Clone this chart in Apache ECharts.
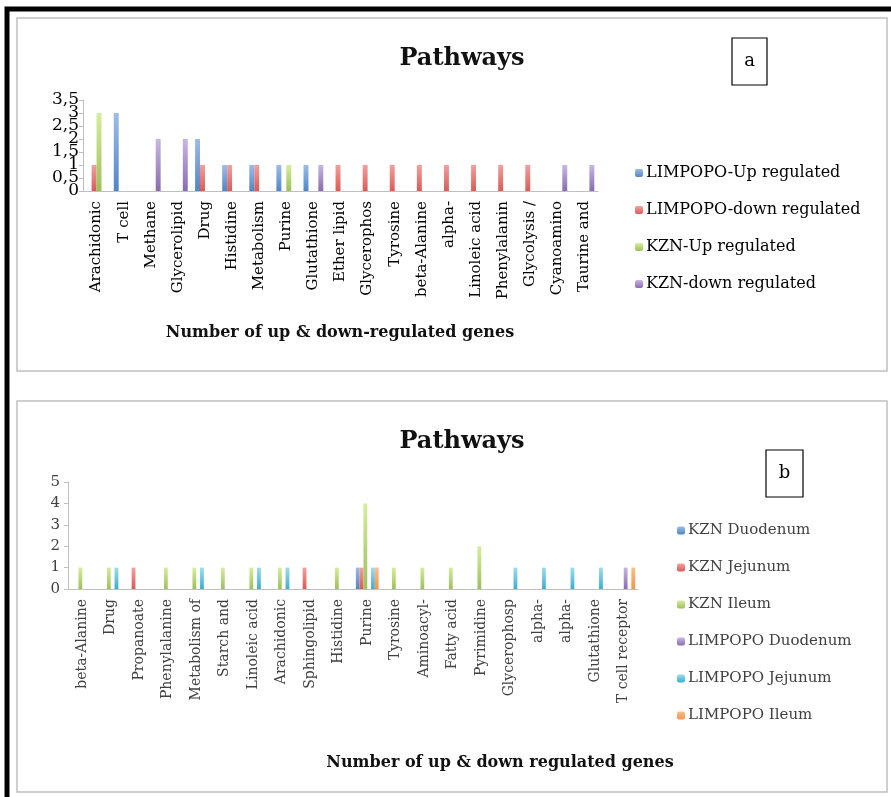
<!DOCTYPE html>
<html lang="en" style="height: 100%">
<head>
  <meta charset="utf-8">
</head>
<body style="height: 100%; margin: 0; background: #fff">
  <div id="container" style="width: 891px; height: 797px"></div>

  <script type="text/javascript" src="https://fastly.jsdelivr.net/npm/echarts@6/dist/echarts.min.js"></script>
  <script type="text/javascript">
    var dom = document.getElementById('container');
    var myChart = echarts.init(dom, null, { renderer: 'canvas' });

// panel a
var catsA = ['Arachidonic', 'T cell', 'Methane', 'Glycerolipid', 'Drug', 'Histidine', 'Metabolism',
  'Purine', 'Glutathione', 'Ether lipid', 'Glycerophos', 'Tyrosine', 'beta-Alanine', 'alpha-',
  'Linoleic acid', 'Phenylalanin', 'Glycolysis /', 'Cyanoamino', 'Taurine and'];
var limpUp   = [0, 3, 0, 0, 2, 1, 1, 1, 1, 0, 0, 0, 0, 0, 0, 0, 0, 0, 0];
var limpDown = [1, 0, 0, 0, 1, 1, 1, 0, 0, 1, 1, 1, 1, 1, 1, 1, 1, 0, 0];
var kznUp    = [3, 0, 0, 0, 0, 0, 0, 1, 0, 0, 0, 0, 0, 0, 0, 0, 0, 0, 0];
var kznDown  = [0, 0, 2, 2, 0, 0, 0, 0, 1, 0, 0, 0, 0, 0, 0, 0, 0, 1, 1];

// panel b
var catsB = ['beta-Alanine', 'Drug', 'Propanoate', 'Phenylalanine', 'Metabolism of', 'Starch and',
  'Linoleic acid', 'Arachidonic', 'Sphingolipid', 'Histidine', 'Purine', 'Tyrosine', 'Aminoacyl-',
  'Fatty acid', 'Pyrimidine', 'Glycerophosp', 'alpha-', 'alpha-', 'Glutathione', 'T cell receptor'];
var kznDuo  = [0, 0, 0, 0, 0, 0, 0, 0, 0, 0, 1, 0, 0, 0, 0, 0, 0, 0, 0, 0];
var kznJej  = [0, 0, 1, 0, 0, 0, 0, 0, 1, 0, 1, 0, 0, 0, 0, 0, 0, 0, 0, 0];
var kznIle  = [1, 1, 0, 1, 1, 1, 1, 1, 0, 1, 4, 1, 1, 1, 2, 0, 0, 0, 0, 0];
var limpDuo = [0, 0, 0, 0, 0, 0, 0, 0, 0, 0, 0, 0, 0, 0, 0, 0, 0, 0, 0, 1];
var limpJej = [0, 1, 0, 0, 1, 0, 1, 1, 0, 0, 1, 0, 0, 0, 0, 1, 1, 1, 1, 0];
var limpIle = [0, 0, 0, 0, 0, 0, 0, 0, 0, 0, 1, 0, 0, 0, 0, 0, 0, 0, 0, 1];

var serif = 'DejaVu Serif';

function grad(light, dark) {
  return new echarts.graphic.LinearGradient(0, 0, 0, 1, [
    { offset: 0, color: light },
    { offset: 1, color: dark }
  ]);
}
var cBlue = grad('#9dbcea', '#4f86c6');
var cRed = grad('#f4a09e', '#dc5a56');
var cGreen = grad('#d6ee9c', '#9dc05a');
var cPurple = grad('#c8b6e4', '#8a6cb0');
var cAqua = grad('#9edcee', '#3aaed0');
var cOrange = grad('#fbbf8c', '#f7944a');

function bar(name, data, color, axis) {
  return {
    name: name, type: 'bar', data: data,
    xAxisIndex: axis, yAxisIndex: axis,
    itemStyle: { color: color },
    barGap: '0%',
    barCategoryGap: axis === 0 ? '27%' : '20%',
    silent: true
  };
}

var axisGray = '#bfbfbf';

// panel a y labels are drawn by two axes (whole and half values) so the
// overlapping labels all stay visible like in the original
function labA(wantHalf) {
  return function (v) {
    var half = Math.round(v * 2) % 2 === 1;
    return half === wantHalf ? String(v).replace('.', ',') : '';
  };
}

option = {
  animation: false,
  title: [
    { text: 'Pathways', left: 457, top: 42, textAlign: 'center',
      textStyle: { fontFamily: serif, fontSize: 24, fontWeight: 'bold', color: '#111' } },
    { text: 'Pathways', left: 457, top: 425, textAlign: 'center',
      textStyle: { fontFamily: serif, fontSize: 24, fontWeight: 'bold', color: '#111' } }
  ],
  graphic: [
    { type: 'rect', shape: { x: 7, y: 9, width: 900, height: 800 }, style: { fill: null, stroke: '#000', lineWidth: 5 } },
    { type: 'rect', shape: { x: 17, y: 18, width: 870, height: 353 }, style: { fill: null, stroke: '#c0c0c0', lineWidth: 1.5 } },
    { type: 'rect', shape: { x: 17, y: 401, width: 870, height: 391 }, style: { fill: null, stroke: '#c0c0c0', lineWidth: 1.5 } },
    { type: 'rect', shape: { x: 732, y: 38, width: 35, height: 47 }, style: { fill: '#fff', stroke: '#000', lineWidth: 1.2 } },
    { type: 'text', x: 749.5, y: 61.5, style: { text: 'a', font: '18px "DejaVu Serif"', fill: '#000', textAlign: 'center', textVerticalAlign: 'middle' } },
    { type: 'rect', shape: { x: 766, y: 450, width: 37, height: 47 }, style: { fill: '#fff', stroke: '#000', lineWidth: 1.2 } },
    { type: 'text', x: 784.5, y: 473.5, style: { text: 'b', font: '18px "DejaVu Serif"', fill: '#000', textAlign: 'center', textVerticalAlign: 'middle' } },
    { type: 'text', x: 340, y: 333, style: { text: 'Number of up & down-regulated genes', font: 'bold 16px "DejaVu Serif"', fill: '#111', textAlign: 'center', textVerticalAlign: 'middle' } },
    { type: 'text', x: 500, y: 763, style: { text: 'Number of up & down regulated genes', font: 'bold 16px "DejaVu Serif"', fill: '#111', textAlign: 'center', textVerticalAlign: 'middle' } }
  ],
  legend: [
    { orient: 'vertical', left: 630, top: 160, itemWidth: 8, itemHeight: 8, itemGap: 21,
      data: ['LIMPOPO-Up regulated', 'LIMPOPO-down regulated', 'KZN-Up regulated', 'KZN-down regulated'],
      textStyle: { fontFamily: serif, fontSize: 16, color: '#000', padding: [0, 0, 0, -2] } },
    { orient: 'vertical', left: 672, top: 518, itemWidth: 8, itemHeight: 8, itemGap: 22,
      data: ['KZN Duodenum', 'KZN Jejunum', 'KZN Ileum', 'LIMPOPO Duodenum', 'LIMPOPO Jejunum', 'LIMPOPO Ileum'],
      textStyle: { fontFamily: serif, fontSize: 15, color: '#404040', padding: [0, 0, 0, -2] } }
  ],
  grid: [
    { left: 83, right: 293, top: 100, bottom: 606 },
    { left: 68, right: 253, top: 482, bottom: 208 }
  ],
  xAxis: [
    { type: 'category', gridIndex: 0, data: catsA,
      axisLine: { lineStyle: { color: axisGray } },
      axisTick: { length: 5, lineStyle: { color: axisGray } },
      axisLabel: { interval: 0, rotate: 90, margin: 10, fontFamily: serif, fontSize: 15, color: '#000' } },
    { type: 'category', gridIndex: 1, data: catsB,
      axisLine: { lineStyle: { color: axisGray } },
      axisTick: { length: 5, lineStyle: { color: axisGray } },
      axisLabel: { interval: 0, rotate: 90, margin: 10, fontFamily: serif, fontSize: 14, color: '#404040' } }
  ],
  yAxis: [
    { type: 'value', gridIndex: 0, min: 0, max: 3.5, interval: 0.5,
      axisLine: { show: true, lineStyle: { color: axisGray } },
      axisTick: { show: true, length: 4, lineStyle: { color: axisGray } },
      splitLine: { show: false },
      axisLabel: { margin: 4, fontFamily: serif, fontSize: 17, color: '#000',
        showMinLabel: true, showMaxLabel: true, formatter: labA(false) } },
    { type: 'value', gridIndex: 1, min: 0, max: 5, interval: 1,
      axisLine: { show: true, lineStyle: { color: axisGray } },
      axisTick: { show: true, length: 4, lineStyle: { color: axisGray } },
      splitLine: { show: false },
      axisLabel: { margin: 8, fontFamily: serif, fontSize: 15, color: '#404040' } },
    { type: 'value', gridIndex: 0, position: 'left', offset: 0, min: 0, max: 3.5, interval: 0.5,
      axisLine: { show: false }, axisTick: { show: false }, splitLine: { show: false },
      axisLabel: { margin: 4, fontFamily: serif, fontSize: 17, color: '#000',
        showMinLabel: true, showMaxLabel: true, formatter: labA(true) } }
  ],
  series: [
    bar('LIMPOPO-Up regulated', limpUp, cBlue, 0),
    bar('LIMPOPO-down regulated', limpDown, cRed, 0),
    bar('KZN-Up regulated', kznUp, cGreen, 0),
    bar('KZN-down regulated', kznDown, cPurple, 0),
    bar('KZN Duodenum', kznDuo, cBlue, 1),
    bar('KZN Jejunum', kznJej, cRed, 1),
    bar('KZN Ileum', kznIle, cGreen, 1),
    bar('LIMPOPO Duodenum', limpDuo, cPurple, 1),
    bar('LIMPOPO Jejunum', limpJej, cAqua, 1),
    bar('LIMPOPO Ileum', limpIle, cOrange, 1)
  ]
};

    myChart.setOption(option);
    window.addEventListener('resize', myChart.resize);
  </script>
</body>
</html>
